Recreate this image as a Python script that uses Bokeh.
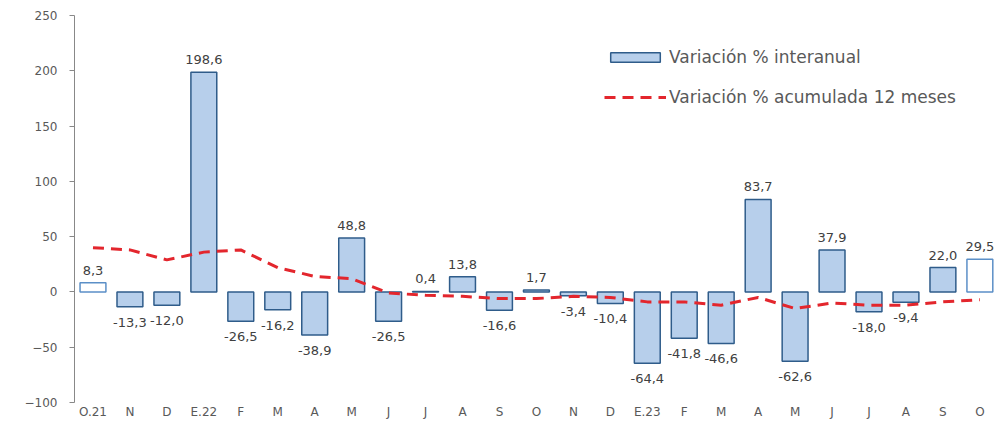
from bokeh.plotting import figure
from bokeh.models import ColumnDataSource, FixedTicker, Legend, LegendItem
from bokeh.core.properties import value
from bokeh.embed import file_html
from bokeh.resources import INLINE

categories = ["O.21", "N", "D", "E.22", "F", "M", "A", "M", "J", "J", "A", "S", "O",
              "N", "D", "E.23", "F", "M", "A", "M", "J", "J", "A", "S", "O"]
interanual = [8.3, -13.3, -12.0, 198.6, -26.5, -16.2, -38.9, 48.8, -26.5, 0.4, 13.8, -16.6, 1.7,
              -3.4, -10.4, -64.4, -41.8, -46.6, 83.7, -62.6, 37.9, -18.0, -9.4, 22.0, 29.5]
acumulada = [40, 38, 29, 36, 38, 22, 14, 12, -1, -3, -4, -6, -6,
             -4, -5, -9, -9, -12, -5, -15, -10, -12, -12, -9, -7]
y_ticks = [-100, -50, 0, 50, 100, 150, 200, 250]

FONT = "DejaVu Sans"
n = len(categories)
xs = list(range(n))
fills = ["#ffffff" if i in (0, n - 1) else "#b7cfeb" for i in xs]
lines = ["#5b8fc7" if i in (0, n - 1) else "#2f5c8a" for i in xs]
labels = [f"{v:.1f}".replace(".", ",") for v in interanual]
baselines = ["bottom" if v >= 0 else "top" for v in interanual]
offsets = [-8 if v >= 0 else 11 for v in interanual]

src = ColumnDataSource(dict(x=xs, y=interanual, fill=fills, line=lines,
                            lab=labels, base=baselines, off=offsets))
lsrc = ColumnDataSource(dict(x=xs, y=acumulada))

p = figure(width=996, height=421, output_backend="svg", toolbar_location=None,
           x_range=(-0.5, 24.45), y_range=(-100, 250),
           min_border_left=74, min_border_right=0, min_border_top=15, min_border_bottom=19)
p.outline_line_color = None
p.grid.grid_line_color = None
p.background_fill_color = "white"

bars = p.vbar(x="x", top="y", bottom=0, width=0.7, source=src,
              fill_color="fill", line_color="line", line_width=1.5)
ln = p.line(x="x", y="y", source=lsrc, line_color="#e3262d", line_width=3, line_dash="11 7")

p.text(x="x", y="y", text="lab", source=src, text_align="center",
       text_baseline="base", y_offset="off", text_font=value(FONT),
       text_font_size="13px", text_color="#404040")

# y axis
p.yaxis.ticker = FixedTicker(ticks=y_ticks)
p.yaxis.axis_line_color = "#888888"
p.yaxis.major_tick_line_color = "#888888"
p.yaxis.major_tick_out = 5
p.yaxis.major_tick_in = 0
p.yaxis.minor_tick_line_color = None
p.yaxis.major_label_text_font = FONT
p.yaxis.major_label_text_font_size = "12px"
p.yaxis.major_label_text_color = "#595959"
p.yaxis.major_label_standoff = 12

# x axis
p.xaxis.ticker = FixedTicker(ticks=xs)
p.xaxis.major_label_overrides = {i: c for i, c in enumerate(categories)}
p.xaxis.axis_line_color = None
p.xaxis.major_tick_line_color = None
p.xaxis.minor_tick_line_color = None
p.xaxis.major_tick_out = 0
p.xaxis.major_tick_in = 0
p.xaxis.major_label_standoff = 2
p.xaxis.major_label_text_font = FONT
p.xaxis.major_label_text_font_size = "12px"
p.xaxis.major_label_text_color = "#595959"

legend = Legend(items=[LegendItem(label="Variación % interanual", renderers=[bars], index=1),
                       LegendItem(label="Variación % acumulada 12 meses", renderers=[ln])],
                location=(530, 295), orientation="vertical",
                glyph_width=62, glyph_height=12, label_height=20, spacing=20,
                label_standoff=3, padding=0, margin=0,
                border_line_color=None, background_fill_alpha=0,
                label_text_font=FONT, label_text_font_size="17px",
                label_text_color="#595959")
p.add_layout(legend)

open("out.html", "w").write(file_html(p, INLINE))
